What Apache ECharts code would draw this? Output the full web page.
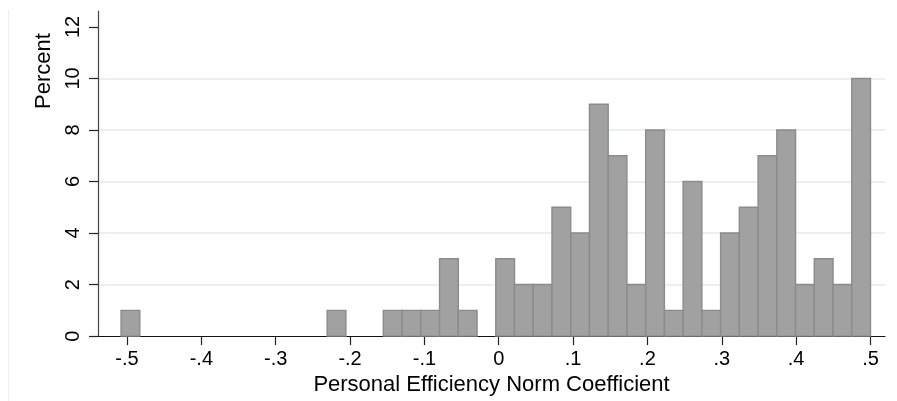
<!DOCTYPE html>
<html>
<head>
<meta charset="utf-8">
<title>Personal Efficiency Norm Coefficient</title>
<script src="https://cdn.jsdelivr.net/npm/echarts@6/dist/echarts.min.js"></script>
<style>
  html, body { margin: 0; padding: 0; background: #ffffff; }
  #chart { width: 897px; height: 401px; }
</style>
</head>
<body>
<div id="chart"></div>
<script>
// Histogram: 40 equal-width bins, heights in percent of observations
const binStart = -0.508;
const binWidth = 0.0252;
const percents = [
  1, 0, 0, 0, 0, 0, 0, 0, 0, 0,
  0, 1, 0, 0, 1, 1, 1, 3, 1, 0,
  3, 2, 2, 5, 4, 9, 7, 2, 8, 1,
  6, 1, 4, 5, 7, 8, 2, 3, 2, 10
];
const xTicks = [-0.5, -0.4, -0.3, -0.2, -0.1, 0, 0.1, 0.2, 0.3, 0.4, 0.5];
const yTicks = [0, 2, 4, 6, 8, 10, 12];
const xTitle = 'Personal Efficiency Norm Coefficient';
const yTitle = 'Percent';

// Stata-style tick text: drop the leading zero ("-.5", ".1")
function fmtTick(v) {
  const r = Math.round(v * 10) / 10;
  if (r === 0) return '0';
  return String(r).replace('0.', '.');
}

// [left edge, right edge, percent] for every non-empty bin
const bins = [];
percents.forEach(function (p, i) {
  if (p > 0) bins.push([binStart + i * binWidth, binStart + (i + 1) * binWidth, p]);
});

const font = '"Liberation Sans", Arial, Helvetica, sans-serif';
const chart = echarts.init(document.getElementById('chart'), null, { renderer: 'canvas' });

chart.setOption({
  animation: false,
  backgroundColor: '#ffffff',
  grid: { left: 98, right: 12, top: 11, bottom: 63, containLabel: false },
  xAxis: {
    type: 'value',
    min: -0.539,
    max: 0.5195,
    name: xTitle,
    nameLocation: 'middle',
    nameGap: 36,
    nameTextStyle: { fontFamily: font, fontSize: 22, color: '#000' },
    axisLine: { onZero: false, lineStyle: { color: '#111', width: 1.2 } },
    axisTick: { customValues: xTicks, length: 9, lineStyle: { color: '#222', width: 1.2 } },
    axisLabel: {
      customValues: xTicks,
      formatter: fmtTick,
      margin: 13,
      fontFamily: font, fontSize: 20, color: '#000'
    },
    splitLine: { show: false }
  },
  yAxis: {
    type: 'value',
    min: 0,
    max: 12.617,
    interval: 2,
    axisLine: { show: true, onZero: false, lineStyle: { color: '#444', width: 1.2 } },
    axisTick: { show: true, customValues: yTicks, length: 9, lineStyle: { color: '#222', width: 1.2 } },
    axisLabel: {
      customValues: yTicks,
      rotate: 90,
      margin: 15,
      fontFamily: font, fontSize: 20, color: '#000'
    },
    splitLine: {
      show: true,
      showMinLine: false,
      showMaxLine: false,
      lineStyle: { color: '#e8f0f3', width: 2 }
    }
  },
  graphic: [
    {
      type: 'line',
      shape: { x1: 8.5, y1: 10, x2: 8.5, y2: 401 },
      style: { stroke: '#eeeeee', lineWidth: 1 },
      silent: true
    },
    {
      type: 'text',
      x: 44,
      y: 71,
      rotation: Math.PI / 2,
      style: {
        text: yTitle,
        fontFamily: font,
        fontSize: 22,
        fill: '#000',
        align: 'center',
        verticalAlign: 'middle'
      }
    }
  ],
  series: [{
    type: 'custom',
    data: bins,
    encode: { x: [0, 1], y: 2 },
    renderItem: function (params, api) {
      const base = api.coord([api.value(0), 0]);
      const top = api.coord([api.value(1), api.value(2)]);
      return {
        type: 'rect',
        shape: {
          x: base[0],
          y: top[1],
          width: top[0] - base[0],
          height: base[1] - top[1]
        },
        style: { fill: '#a1a1a1', stroke: '#8b8b8b', lineWidth: 1.4 }
      };
    },
    z: 3
  }]
});
</script>
</body>
</html>
